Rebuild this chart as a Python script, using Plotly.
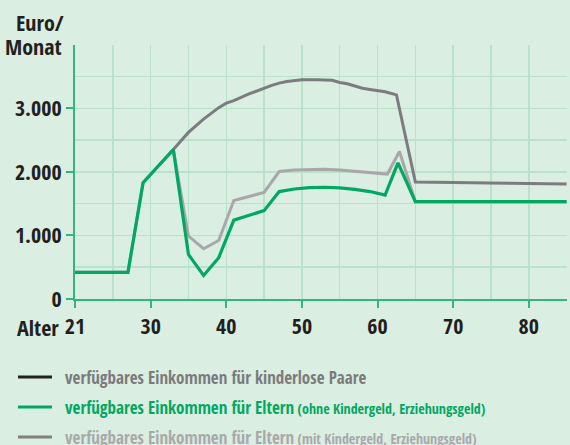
import plotly.graph_objects as go

# ---- data ----
ages_ohne = [20, 27, 29, 33, 35, 37, 39, 41, 45, 47, 49, 51, 53, 55, 57, 59, 61, 62.7, 65, 85]
ohne = [420, 420, 1830, 2350, 700, 370, 650, 1240, 1390, 1690, 1730, 1752, 1758, 1748, 1725, 1690, 1635, 2140, 1530, 1530]

ages_mit = [20, 27, 29, 33, 35, 37, 39, 41, 45, 47, 49, 51, 53, 55, 57, 59, 61.3, 62.9, 65, 85]
mit = [420, 420, 1830, 2350, 990, 790, 920, 1550, 1675, 2005, 2030, 2040, 2042, 2030, 2010, 1985, 1965, 2320, 1530, 1530]

ages_kl = [33, 35, 37, 39, 40, 41, 43, 45, 46, 47, 48, 50, 52, 54, 55, 56, 57, 58, 59, 60, 61, 62.5, 65, 85]
kinderlos = [2350, 2620, 2830, 3010, 3080, 3120, 3225, 3320, 3360, 3395, 3420, 3448, 3450, 3440, 3405, 3385, 3350, 3315, 3295, 3280, 3260, 3210, 1840, 1810]

x_tickvals = [20, 30, 40, 50, 60, 70, 80]
x_ticktext = ["21", "30", "40", "50", "60", "70", "80"]
y_tickvals = [0, 1000, 2000, 3000]
y_ticktext = ["0", "1.000", "2.000", "3.000"]

legend_labels = [
    ("verfügbares Einkommen für kinderlose Paare", ""),
    ("verfügbares Einkommen für Eltern", " (ohne Kindergeld, Erziehungsgeld)"),
    ("verfügbares Einkommen für Eltern", " (mit Kindergeld, Erziehungsgeld)"),
]

# ---- styling ----
BG = "#daeee1"
GRID = "#b8e2ca"
AXIS = "#33b67c"
GREEN = "#00a862"
DGRAY = "#7c7c80"
LGRAY = "#a8a8ab"
FONT = "Open Sans Condensed, Roboto Condensed, sans-serif"
TXT = "#231f20"

W, H = 570, 445
ML, MR, MT, MB = 75, 3, 45, 146
PW, PH = W - ML - MR, H - MT - MB


def px(xp):
    return (xp - ML) / PW


def py(yp):
    return (H - MB - yp) / PH


fig = go.Figure()
fig.add_trace(go.Scatter(x=ages_mit, y=mit, mode="lines",
                         line=dict(color=LGRAY, width=3), hoverinfo="skip"))
fig.add_trace(go.Scatter(x=ages_kl, y=kinderlos, mode="lines",
                         line=dict(color=DGRAY, width=3), hoverinfo="skip"))
fig.add_trace(go.Scatter(x=ages_ohne, y=ohne, mode="lines",
                         line=dict(color=GREEN, width=3.2), hoverinfo="skip"))

tickfont = dict(family=FONT, size=22, color=TXT, weight="bold")

fig.update_layout(
    width=W, height=H,
    margin=dict(l=ML, r=MR, t=MT, b=MB, pad=0, autoexpand=False),
    paper_bgcolor=BG, plot_bgcolor=BG,
    showlegend=False,
    font=dict(family=FONT, size=20, color=TXT),
    xaxis=dict(
        range=[20, 85.05], tickmode="array", tickvals=x_tickvals, ticktext=x_ticktext,
        showgrid=True, gridcolor=GRID, gridwidth=1.5,
        minor=dict(dtick=5, tick0=20, showgrid=True, gridcolor=GRID, gridwidth=1.5, ticks=""),
        showline=True, linecolor=AXIS, linewidth=2,
        ticks="outside", ticklen=7, tickwidth=2, tickcolor=AXIS,
        tickfont=tickfont, automargin=False,
        zeroline=False, fixedrange=True,
    ),
    yaxis=dict(
        range=[0, 3995], tickmode="array", tickvals=y_tickvals, ticktext=y_ticktext,
        showgrid=True, gridcolor=GRID, gridwidth=1.5,
        minor=dict(dtick=500, tick0=0, showgrid=True, gridcolor=GRID, gridwidth=1.5, ticks=""),
        showline=True, linecolor=AXIS, linewidth=2,
        ticks="outside", ticklen=7, tickwidth=2, tickcolor=AXIS,
        tickfont=tickfont, automargin=False,
        zeroline=False, fixedrange=True,
    ),
)

# axis title annotations
fig.add_annotation(text="<b>Euro/</b>", xref="paper", yref="paper",
                   x=px(66), y=py(22), xanchor="right", yanchor="middle",
                   showarrow=False, font=dict(family=FONT, size=22, color=TXT))
fig.add_annotation(text="<b>Monat</b>", xref="paper", yref="paper",
                   x=px(64), y=py(46), xanchor="right", yanchor="middle",
                   showarrow=False, font=dict(family=FONT, size=22, color=TXT))
fig.add_annotation(text="<b>Alter</b>", xref="paper", yref="paper",
                   x=px(61), y=py(327), xanchor="right", yanchor="middle",
                   showarrow=False, font=dict(family=FONT, size=22, color=TXT))

# legend (drawn manually)
leg_line_colors = ["#222222", GREEN, "#808080"]
leg_text_colors = ["#7b7b7d", GREEN, "#a9a9ab"]
leg_y = [377, 407, 437]
for (main, sub), lc, tc, yy in zip(legend_labels, leg_line_colors, leg_text_colors, leg_y):
    fig.add_shape(type="line", xref="paper", yref="paper",
                  x0=px(18), x1=px(52), y0=py(yy), y1=py(yy),
                  line=dict(color=lc, width=3))
    txt = f"<b>{main}</b>"
    if sub:
        txt += f"<b><span style='font-size:14px'>{sub}</span></b>"
    fig.add_annotation(text=txt, xref="paper", yref="paper",
                       x=px(63), y=py(yy), xanchor="left", yanchor="middle",
                       showarrow=False, font=dict(family=FONT, size=17, color=tc))

fig.write_html("out.html", config=dict(displayModeBar=False, staticPlot=True),
               post_script="document.body.style.margin='0';document.body.style.overflow='hidden';")
